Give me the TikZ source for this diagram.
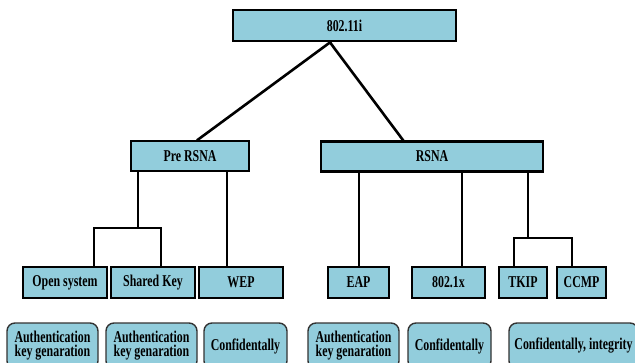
\documentclass[tikz,border=0pt]{standalone}
\usepackage{fontspec}
\setmainfont{Liberation Serif}[FakeStretch=0.72]
\usetikzlibrary{calc}
\definecolor{boxfill}{RGB}{146,205,220}
\tikzset{
  x=1pt, y=-1pt,
  every node/.style={font=\bfseries\fontsize{16.5}{14}\selectfont, align=center, inner sep=0pt},
  tree/.style={draw=black, line width=2.8pt, fill=boxfill, minimum height=30pt},
  leafbox/.style={tree, minimum height=31pt},
  info/.style={draw=black!80, line width=1.4pt, fill=boxfill, rounded corners=8pt, minimum height=46pt},
  link/.style={line width=2.6pt, line cap=rect},
}
\begin{document}
\begin{tikzpicture}
\useasboundingbox (0,0) rectangle (635,362);
\clip (0,0) rectangle (635,362);

% root and the two families
\node[tree, minimum width=223pt, minimum height=31pt] (root) at (344.5,25.5) {802.11i};
\node[tree, minimum width=118pt] (pre) at (190,156) {Pre RSNA};
\node[tree, minimum width=222pt] (rsna) at (432,156.5) {RSNA};

% mechanisms
\node[leafbox, minimum width=84pt] (open) at (65,282.5) {Open system};
\node[leafbox, minimum width=84pt] (shared) at (153,282.5) {Shared Key};
\node[leafbox, minimum width=84pt] (wep) at (241,282.5) {WEP};
\node[leafbox, minimum width=61pt] (eap) at (358.5,282.5) {EAP};
\node[leafbox, minimum width=73pt] (dotx) at (448.5,282.5) {802.1x};
\node[leafbox, minimum width=48pt] (tkip) at (523,282.5) {TKIP};
\node[leafbox, minimum width=49pt] (ccmp) at (581.5,282.5) {CCMP};

% services provided
\node[info, minimum width=91pt] (s1) at (52.5,346) {Authentication\\key genaration};
\node[info, minimum width=91pt] (s2) at (151.5,346) {Authentication\\key genaration};
\node[info, minimum width=83pt] (s3) at (245.5,346) {Confidentally};
\node[info, minimum width=91pt] (s4) at (353.5,346) {Authentication\\key genaration};
\node[info, minimum width=83pt] (s5) at (449.5,346) {Confidentally};
\node[info, minimum width=129pt] (s6) at (573.5,346) {Confidentally, integrity};

% root to families
\draw[link] ($(root.south)+(-14.5,0)$) -- ($(pre.north)+(8,0)$);
\draw[link] ($(root.south)+(-14.5,0)$) -- ($(rsna.north)+(-29,0)$);

% Pre RSNA branches
\coordinate (pj) at (138,228);
\draw[link] ($(pre.south)+(-52,0)$) -- (pj);
\draw[link] ($(open.north)+(29,0)$) |- (pj) -| ($(shared.north)+(8,0)$);
\draw[link] ($(pre.south)+(37,0)$) -- ($(wep.north)+(-14,0)$);

% RSNA branches
\draw[link] ($(rsna.south)+(-73,0)$) -- ($(eap.north)+(0.5,0)$);
\draw[link] ($(rsna.south)+(30,0)$) -- ($(dotx.north)+(13.5,0)$);
\coordinate (rj) at (528,238);
\draw[link] ($(rsna.south)+(96,0)$) -- (rj);
\draw[link] ($(tkip.north)+(-9,0)$) |- (rj) -| ($(ccmp.north)+(-9.5,0)$);
\end{tikzpicture}
\end{document}
